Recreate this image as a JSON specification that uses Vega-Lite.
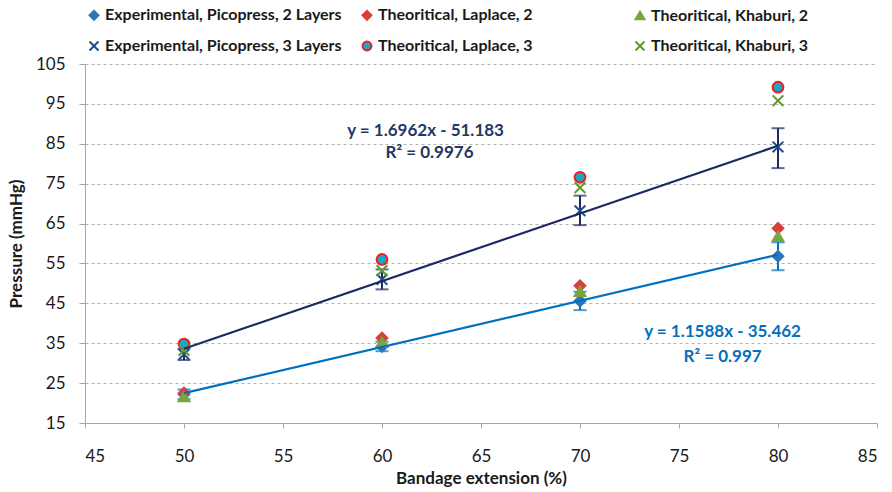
{
  "$schema": "https://vega.github.io/schema/vega-lite/v6.json",
  "width": 792,
  "height": 359,
  "autosize": {"type": "none"},
  "padding": {"left": 85, "top": 64, "right": 15, "bottom": 69},
  "background": "white",
  "config": {
    "font": "Lato",
    "view": {"stroke": null},
    "axis": {"labelFont": "Lato", "titleFont": "Lato", "labelColor": "#1a1a1a", "titleColor": "#1a1a1a"}
  },
  "datasets": {
    "points": [
      {"series": "Experimental, Picopress, 2 Layers", "layers": "2", "ext": 50, "p": 22.2, "lo": 21.0, "hi": 23.4},
      {"series": "Experimental, Picopress, 2 Layers", "layers": "2", "ext": 60, "p": 34.2, "lo": 33.0, "hi": 35.4},
      {"series": "Experimental, Picopress, 2 Layers", "layers": "2", "ext": 70, "p": 45.6, "lo": 43.3, "hi": 47.9},
      {"series": "Experimental, Picopress, 2 Layers", "layers": "2", "ext": 80, "p": 56.8, "lo": 53.3, "hi": 60.3},
      {"series": "Theoritical, Laplace, 2", "ext": 50, "p": 22.5},
      {"series": "Theoritical, Laplace, 2", "ext": 60, "p": 36.3},
      {"series": "Theoritical, Laplace, 2", "ext": 70, "p": 49.4},
      {"series": "Theoritical, Laplace, 2", "ext": 80, "p": 63.8},
      {"series": "Theoritical, Khaburi, 2", "ext": 50, "p": 21.6},
      {"series": "Theoritical, Khaburi, 2", "ext": 60, "p": 35.2},
      {"series": "Theoritical, Khaburi, 2", "ext": 70, "p": 48.0},
      {"series": "Theoritical, Khaburi, 2", "ext": 80, "p": 61.8},
      {"series": "Experimental, Picopress, 3 Layers", "layers": "3", "ext": 50, "p": 32.2, "lo": 30.8, "hi": 33.6},
      {"series": "Experimental, Picopress, 3 Layers", "layers": "3", "ext": 60, "p": 51.0, "lo": 48.5, "hi": 53.5},
      {"series": "Experimental, Picopress, 3 Layers", "layers": "3", "ext": 70, "p": 68.2, "lo": 64.6, "hi": 72.0},
      {"series": "Experimental, Picopress, 3 Layers", "layers": "3", "ext": 80, "p": 84.2, "lo": 78.9, "hi": 88.9},
      {"series": "Theoritical, Laplace, 3", "ext": 50, "p": 34.8},
      {"series": "Theoritical, Laplace, 3", "ext": 60, "p": 56.0},
      {"series": "Theoritical, Laplace, 3", "ext": 70, "p": 76.6},
      {"series": "Theoritical, Laplace, 3", "ext": 80, "p": 99.2},
      {"series": "Theoritical, Khaburi, 3", "ext": 50, "p": 33.2},
      {"series": "Theoritical, Khaburi, 3", "ext": 60, "p": 53.2},
      {"series": "Theoritical, Khaburi, 3", "ext": 70, "p": 74.0},
      {"series": "Theoritical, Khaburi, 3", "ext": 80, "p": 95.8}
    ],
    "trend": [
      {"layers": "2", "ext": 50, "p": 22.5},
      {"layers": "2", "ext": 80, "p": 57.2},
      {"layers": "3", "ext": 50, "p": 33.6},
      {"layers": "3", "ext": 80, "p": 84.5}
    ]
  },
  "layer": [
    {
      "data": {"name": "points"},
      "transform": [{"filter": "datum.lo != null"}],
      "mark": {"type": "errorbar", "ticks": {"size": 13}, "thickness": 2},
      "encoding": {
        "x": {
          "field": "ext", "type": "quantitative", "title": "Bandage extension (%)",
          "scale": {"domain": [45, 85], "nice": false},
          "axis": {
            "values": [45, 50, 55, 60, 65, 70, 75, 80, 85], "tickCount": 20,
            "grid": false, "domainColor": "#a6a6a6", "tickColor": "#a6a6a6", "tickSize": 5,
            "labelFontSize": 17, "labelPadding": 20, "titleFontSize": 17, "titleFontWeight": "bold", "titlePadding": 6
          }
        },
        "y": {
          "field": "lo", "type": "quantitative", "title": "Pressure (mmHg)",
          "scale": {"domain": [15, 105], "nice": false, "zero": false},
          "axis": {
            "values": [15, 25, 35, 45, 55, 65, 75, 85, 95, 105], "tickCount": 20,
            "grid": true, "gridDash": [3, 3], "gridColor": "#b3b3b3", "gridWidth": 1.2,
            "domainColor": "#a6a6a6", "tickColor": "#a6a6a6", "tickSize": 6,
            "labelFontSize": 17, "labelPadding": 14, "titleFontSize": 17, "titleFontWeight": "bold", "titlePadding": 10
          }
        },
        "y2": {"field": "hi"},
        "color": {"field": "layers", "type": "nominal", "scale": {"domain": ["2", "3"], "range": ["#0070C0", "#1B2A60"]}, "legend": null}
      }
    },
    {
      "data": {"name": "points"},
      "mark": {"type": "point", "opacity": 1, "strokeWidth": 2},
      "encoding": {
        "x": {"field": "ext", "type": "quantitative", "title": "Bandage extension (%)"},
        "y": {"field": "p", "type": "quantitative", "title": "Pressure (mmHg)"},
        "shape": {
          "field": "series", "type": "nominal",
          "scale": {
            "domain": ["Experimental, Picopress, 2 Layers", "Theoritical, Laplace, 2", "Theoritical, Khaburi, 2", "Experimental, Picopress, 3 Layers", "Theoritical, Laplace, 3", "Theoritical, Khaburi, 3"],
            "range": ["diamond", "diamond", "triangle-up", "M-1,-1L1,1M-1,1L1,-1", "circle", "M-1,-1L1,1M-1,1L1,-1"]
          },
          "legend": {
            "title": null, "orient": "none", "legendX": 1, "legendY": -57, "columns": 3, "direction": "horizontal",
            "gridAlign": "all", "columnPadding": 16, "rowPadding": 13,
            "labelFontSize": 16, "labelFontWeight": "bold", "labelColor": "#1a1a1a", "labelLimit": 400,
            "symbolSize": 80, "symbolStrokeWidth": 2, "labelOffset": 3
          }
        },
        "fill": {
          "field": "series", "type": "nominal",
          "scale": {
            "domain": ["Experimental, Picopress, 2 Layers", "Theoritical, Laplace, 2", "Theoritical, Khaburi, 2", "Experimental, Picopress, 3 Layers", "Theoritical, Laplace, 3", "Theoritical, Khaburi, 3"],
            "range": ["#2E75B6", "#D8403A", "#77A540", "transparent", "#1FA3C8", "transparent"]
          }
        },
        "stroke": {
          "field": "series", "type": "nominal",
          "scale": {
            "domain": ["Experimental, Picopress, 2 Layers", "Theoritical, Laplace, 2", "Theoritical, Khaburi, 2", "Experimental, Picopress, 3 Layers", "Theoritical, Laplace, 3", "Theoritical, Khaburi, 3"],
            "range": ["#2E75B6", "#D8403A", "#77A540", "#1F4E8C", "#E8221E", "#5E9A2C"]
          }
        },
        "size": {"value": 115}
      }
    },
    {
      "data": {"name": "trend"},
      "mark": {"type": "line", "strokeWidth": 2.2},
      "encoding": {
        "x": {"field": "ext", "type": "quantitative", "title": "Bandage extension (%)"},
        "y": {"field": "p", "type": "quantitative", "title": "Pressure (mmHg)"},
        "color": {"field": "layers", "type": "nominal", "legend": null}
      }
    },
    {
      "data": {"values": [{}]},
      "mark": {"type": "text", "text": "y = 1.6962x - 51.183", "fontSize": 17, "fontWeight": "bold", "fill": "#1F3864", "align": "center", "baseline": "middle"},
      "encoding": {"x": {"datum": 62.2}, "y": {"datum": 88.2}}
    },
    {
      "data": {"values": [{}]},
      "mark": {"type": "text", "text": "R² = 0.9976", "fontSize": 17, "fontWeight": "bold", "fill": "#1F3864", "align": "center", "baseline": "middle"},
      "encoding": {"x": {"datum": 62.4}, "y": {"datum": 82.7}}
    },
    {
      "data": {"values": [{}]},
      "mark": {"type": "text", "text": "y = 1.1588x - 35.462", "fontSize": 17, "fontWeight": "bold", "fill": "#0070C0", "align": "center", "baseline": "middle"},
      "encoding": {"x": {"datum": 77.2}, "y": {"datum": 37.8}}
    },
    {
      "data": {"values": [{}]},
      "mark": {"type": "text", "text": "R² = 0.997", "fontSize": 17, "fontWeight": "bold", "fill": "#0070C0", "align": "center", "baseline": "middle"},
      "encoding": {"x": {"datum": 77.2}, "y": {"datum": 31.5}}
    }
  ]
}
